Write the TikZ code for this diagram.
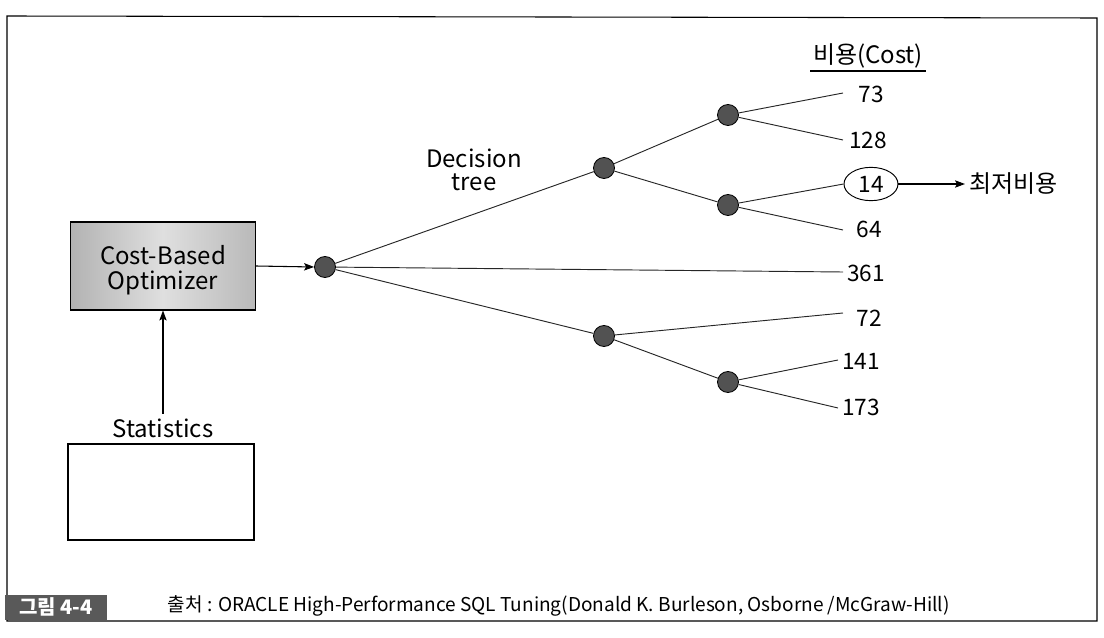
\documentclass[tikz,border=0pt]{standalone}
\usepackage{fontspec}
\setmainfont{Noto Sans CJK KR}
\usetikzlibrary{arrows.meta,shapes.geometric,calc}
\begin{document}
\begin{tikzpicture}[x=0.75pt,y=-0.75pt,
  dot/.style={circle,draw=black,fill=black!68,minimum size=15.75pt,inner sep=0pt,line width=0.6pt},
  edge/.style={draw=black!85,line width=0.7pt},
  arr/.style={draw=black,line width=0.8pt,-{Stealth[length=7.5pt,width=5.5pt,inset=1.5pt]}},
  leaf/.style={font=\fontsize{17}{20}\selectfont,anchor=center},
  lbl/.style={font=\fontsize{18}{21}\selectfont,align=center}]
\useasboundingbox (0,0) rectangle (1104,638);
% frame
\draw[line width=0.8pt] (7,16) -- (1097,18) -- (1097,621) -- (7,621) -- cycle;
\node[fill=gray!70!black,minimum width=76.5pt,minimum height=18.75pt,inner sep=0pt,text=white,font=\fontsize{15}{17}\selectfont\bfseries] (fig) at (56,607) {그림 4-4};
\node[font=\fontsize{14.3}{16}\selectfont,anchor=west] (src) at (163,606) {출처 : ORACLE High-Performance SQL Tuning(Donald K. Burleson, Osborne /McGraw-Hill)};
% boxes
\node[draw=black,line width=0.8pt,left color=gray!60,right color=gray!55,middle color=gray!25,minimum width=138.75pt,minimum height=66pt,inner sep=0pt] (cbo) at (163,266) {};
\node[lbl] (cbotxt) at (163,270) {Cost-Based\\[-2pt]Optimizer};
\node[draw=black,line width=0.8pt,minimum width=139.5pt,minimum height=72pt,inner sep=0pt] (stat) at (161,492) {};
\node[lbl] (stattxt) at (163,428) {Statistics};
\draw[arr] (stattxt.north) -- (cbo.south);
% tree
\node[dot] (r) at (325,267) {};
\node[dot] (n1) at (604,168) {};
\node[dot] (n11) at (728,115) {};
\node[dot] (n12) at (728,205) {};
\node[dot] (n2) at (604,336) {};
\node[dot] (n22) at (728,382) {};
\draw[arr] (cbo.east) -- (r.west);
\node[lbl,align=center] (dt) at (474,170) {Decision\\[-4pt]tree};
\coordinate (e73) at (843,93);
\coordinate (e128) at (843,140);
\coordinate (e64) at (843,230);
\coordinate (e361) at (843,272);
\coordinate (e72) at (843,313);
\coordinate (e141) at (838,360);
\coordinate (e173) at (838,408);
\node[leaf] (l73) at (871,94) {73};
\node[leaf] (l128) at (868,140) {128};
\node[draw=black,line width=0.7pt,ellipse,minimum width=40.5pt,minimum height=25pt,inner sep=0pt,leaf] (l14) at (871,184) {14};
\node[leaf] (l64) at (869,229) {64};
\node[leaf] (l361) at (866,273) {361};
\node[leaf] (l72) at (869,318) {72};
\node[leaf] (l141) at (861,361) {141};
\node[leaf] (l173) at (861,407) {173};
\draw[edge] (r) -- (n1);
\draw[edge] (r) -- (e361);
\draw[edge] (r) -- (n2);
\draw[edge] (n1) -- (n11);
\draw[edge] (n1) -- (n12);
\draw[edge] (n11) -- (e73);
\draw[edge] (n11) -- (e128);
\draw[edge] (n12) -- (l14.west);
\draw[edge] (n12) -- (e64);
\draw[edge] (n2) -- (e72);
\draw[edge] (n2) -- (n22);
\draw[edge] (n22) -- (e141);
\draw[edge] (n22) -- (e173);
\node[lbl,anchor=west] (low) at (965,184) {최저비용};
\draw[arr] (l14.east) -- (low.west);
\node[lbl] (cost) at (868,56) {비용(Cost)};
\draw[line width=0.8pt] ($(cost.south west)+(2,-2)$) -- ($(cost.south east)+(-2,-2)$);
\end{tikzpicture}
\end{document}
